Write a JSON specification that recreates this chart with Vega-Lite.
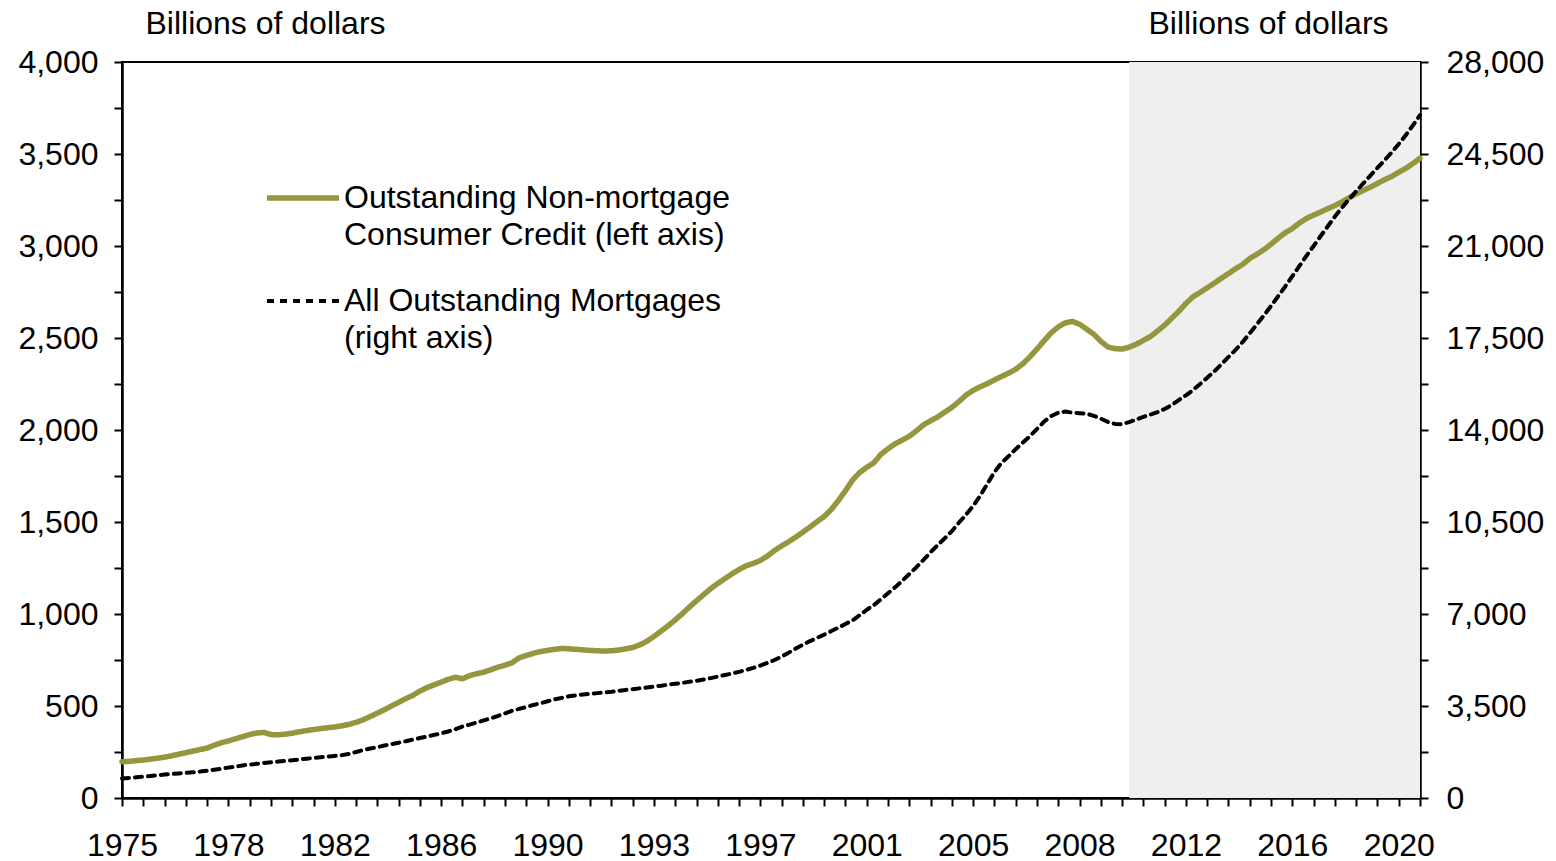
{
  "$schema": "https://vega.github.io/schema/vega-lite/v6.json",
  "width": 1298,
  "height": 736,
  "autosize": {"type": "none"},
  "padding": {"left": 122, "top": 62, "right": 136, "bottom": 63},
  "background": "white",
  "config": {
    "font": "Liberation Sans",
    "view": {"stroke": "black", "strokeWidth": 2},
    "axis": {
      "grid": false,
      "domainColor": "black",
      "domainWidth": 2.5,
      "tickColor": "black",
      "tickWidth": 2,
      "tickSize": 8,
      "labelFont": "Liberation Sans",
      "labelFontSize": 32,
      "labelColor": "black",
      "titleFont": "Liberation Sans",
      "titleFontSize": 32,
      "titleFontWeight": "normal",
      "titleColor": "black",
      "labelOverlap": false,
      "labelFlush": false,
      "tickCount": 200
    }
  },
  "data": {
    "values": [
      {"t":1975.00,"credit":197,"mortgage":745},{"t":1975.25,"credit":199,"mortgage":765},{"t":1975.50,"credit":203,"mortgage":788},{"t":1975.75,"credit":206,"mortgage":812},
      {"t":1976.00,"credit":211,"mortgage":840},{"t":1976.25,"credit":216,"mortgage":865},{"t":1976.50,"credit":222,"mortgage":890},{"t":1976.75,"credit":229,"mortgage":915},
      {"t":1977.00,"credit":238,"mortgage":935},{"t":1977.25,"credit":246,"mortgage":955},{"t":1977.50,"credit":255,"mortgage":977},{"t":1977.75,"credit":263,"mortgage":1005},
      {"t":1978.00,"credit":271,"mortgage":1040},{"t":1978.25,"credit":287,"mortgage":1075},{"t":1978.50,"credit":300,"mortgage":1115},{"t":1978.75,"credit":310,"mortgage":1155},
      {"t":1979.00,"credit":322,"mortgage":1195},{"t":1979.25,"credit":333,"mortgage":1240},{"t":1979.50,"credit":345,"mortgage":1270},{"t":1979.75,"credit":353,"mortgage":1300},
      {"t":1980.00,"credit":356,"mortgage":1330},{"t":1980.25,"credit":345,"mortgage":1360},{"t":1980.50,"credit":343,"mortgage":1385},{"t":1980.75,"credit":347,"mortgage":1410},
      {"t":1981.00,"credit":352,"mortgage":1435},{"t":1981.25,"credit":360,"mortgage":1465},{"t":1981.50,"credit":366,"mortgage":1495},{"t":1981.75,"credit":372,"mortgage":1520},
      {"t":1982.00,"credit":377,"mortgage":1548},{"t":1982.25,"credit":382,"mortgage":1575},{"t":1982.50,"credit":386,"mortgage":1600},{"t":1982.75,"credit":392,"mortgage":1630},
      {"t":1983.00,"credit":400,"mortgage":1680},{"t":1983.25,"credit":411,"mortgage":1750},{"t":1983.50,"credit":425,"mortgage":1826},{"t":1983.75,"credit":443,"mortgage":1880},
      {"t":1984.00,"credit":461,"mortgage":1935},{"t":1984.25,"credit":480,"mortgage":1995},{"t":1984.50,"credit":500,"mortgage":2050},{"t":1984.75,"credit":520,"mortgage":2100},
      {"t":1985.00,"credit":540,"mortgage":2160},{"t":1985.25,"credit":558,"mortgage":2220},{"t":1985.50,"credit":581,"mortgage":2280},{"t":1985.75,"credit":600,"mortgage":2335},
      {"t":1986.00,"credit":615,"mortgage":2400},{"t":1986.25,"credit":630,"mortgage":2460},{"t":1986.50,"credit":645,"mortgage":2530},{"t":1986.75,"credit":656,"mortgage":2620},
      {"t":1987.00,"credit":648,"mortgage":2720},{"t":1987.25,"credit":665,"mortgage":2790},{"t":1987.50,"credit":675,"mortgage":2870},{"t":1987.75,"credit":684,"mortgage":2950},
      {"t":1988.00,"credit":697,"mortgage":3030},{"t":1988.25,"credit":711,"mortgage":3120},{"t":1988.50,"credit":722,"mortgage":3220},{"t":1988.75,"credit":735,"mortgage":3320},
      {"t":1989.00,"credit":762,"mortgage":3390},{"t":1989.25,"credit":775,"mortgage":3460},{"t":1989.50,"credit":786,"mortgage":3540},{"t":1989.75,"credit":796,"mortgage":3605},
      {"t":1990.00,"credit":802,"mortgage":3680},{"t":1990.25,"credit":808,"mortgage":3750},{"t":1990.50,"credit":813,"mortgage":3810},{"t":1990.75,"credit":811,"mortgage":3870},
      {"t":1991.00,"credit":808,"mortgage":3905},{"t":1991.25,"credit":805,"mortgage":3935},{"t":1991.50,"credit":802,"mortgage":3965},{"t":1991.75,"credit":800,"mortgage":3990},
      {"t":1992.00,"credit":799,"mortgage":4015},{"t":1992.25,"credit":800,"mortgage":4040},{"t":1992.50,"credit":804,"mortgage":4075},{"t":1992.75,"credit":810,"mortgage":4110},
      {"t":1993.00,"credit":818,"mortgage":4140},{"t":1993.25,"credit":832,"mortgage":4172},{"t":1993.50,"credit":852,"mortgage":4205},{"t":1993.75,"credit":878,"mortgage":4240},
      {"t":1994.00,"credit":907,"mortgage":4270},{"t":1994.25,"credit":936,"mortgage":4310},{"t":1994.50,"credit":968,"mortgage":4345},{"t":1994.75,"credit":1002,"mortgage":4380},
      {"t":1995.00,"credit":1038,"mortgage":4420},{"t":1995.25,"credit":1072,"mortgage":4460},{"t":1995.50,"credit":1105,"mortgage":4510},{"t":1995.75,"credit":1138,"mortgage":4560},
      {"t":1996.00,"credit":1166,"mortgage":4620},{"t":1996.25,"credit":1192,"mortgage":4680},{"t":1996.50,"credit":1218,"mortgage":4735},{"t":1996.75,"credit":1242,"mortgage":4800},
      {"t":1997.00,"credit":1262,"mortgage":4870},{"t":1997.25,"credit":1275,"mortgage":4950},{"t":1997.50,"credit":1291,"mortgage":5040},{"t":1997.75,"credit":1315,"mortgage":5140},
      {"t":1998.00,"credit":1345,"mortgage":5250},{"t":1998.25,"credit":1370,"mortgage":5380},{"t":1998.50,"credit":1393,"mortgage":5530},{"t":1998.75,"credit":1418,"mortgage":5690},
      {"t":1999.00,"credit":1445,"mortgage":5830},{"t":1999.25,"credit":1473,"mortgage":5970},{"t":1999.50,"credit":1502,"mortgage":6090},{"t":1999.75,"credit":1530,"mortgage":6215},
      {"t":2000.00,"credit":1568,"mortgage":6350},{"t":2000.25,"credit":1617,"mortgage":6480},{"t":2000.50,"credit":1670,"mortgage":6620},{"t":2000.75,"credit":1728,"mortgage":6760},
      {"t":2001.00,"credit":1769,"mortgage":6950},{"t":2001.25,"credit":1797,"mortgage":7160},{"t":2001.50,"credit":1822,"mortgage":7340},{"t":2001.75,"credit":1868,"mortgage":7560},
      {"t":2002.00,"credit":1898,"mortgage":7790},{"t":2002.25,"credit":1925,"mortgage":8020},{"t":2002.50,"credit":1945,"mortgage":8260},{"t":2002.75,"credit":1966,"mortgage":8520},
      {"t":2003.00,"credit":1995,"mortgage":8780},{"t":2003.25,"credit":2028,"mortgage":9060},{"t":2003.50,"credit":2050,"mortgage":9350},{"t":2003.75,"credit":2071,"mortgage":9620},
      {"t":2004.00,"credit":2097,"mortgage":9880},{"t":2004.25,"credit":2123,"mortgage":10150},{"t":2004.50,"credit":2155,"mortgage":10480},{"t":2004.75,"credit":2190,"mortgage":10780},
      {"t":2005.00,"credit":2215,"mortgage":11110},{"t":2005.25,"credit":2235,"mortgage":11500},{"t":2005.50,"credit":2252,"mortgage":11950},{"t":2005.75,"credit":2272,"mortgage":12400},
      {"t":2006.00,"credit":2291,"mortgage":12750},{"t":2006.25,"credit":2309,"mortgage":13000},{"t":2006.50,"credit":2330,"mortgage":13270},{"t":2006.75,"credit":2360,"mortgage":13520},
      {"t":2007.00,"credit":2397,"mortgage":13760},{"t":2007.25,"credit":2440,"mortgage":14040},{"t":2007.50,"credit":2485,"mortgage":14320},{"t":2007.75,"credit":2528,"mortgage":14530},
      {"t":2008.00,"credit":2560,"mortgage":14660},{"t":2008.25,"credit":2582,"mortgage":14700},{"t":2008.50,"credit":2590,"mortgage":14660},{"t":2008.75,"credit":2575,"mortgage":14640},
      {"t":2009.00,"credit":2548,"mortgage":14620},{"t":2009.25,"credit":2521,"mortgage":14540},{"t":2009.50,"credit":2482,"mortgage":14430},{"t":2009.75,"credit":2451,"mortgage":14310},
      {"t":2010.00,"credit":2442,"mortgage":14230},{"t":2010.25,"credit":2440,"mortgage":14220},{"t":2010.50,"credit":2450,"mortgage":14300},{"t":2010.75,"credit":2466,"mortgage":14400},
      {"t":2011.00,"credit":2487,"mortgage":14500},{"t":2011.25,"credit":2508,"mortgage":14590},{"t":2011.50,"credit":2538,"mortgage":14680},{"t":2011.75,"credit":2570,"mortgage":14800},
      {"t":2012.00,"credit":2608,"mortgage":14950},{"t":2012.25,"credit":2645,"mortgage":15140},{"t":2012.50,"credit":2688,"mortgage":15320},{"t":2012.75,"credit":2724,"mortgage":15520},
      {"t":2013.00,"credit":2748,"mortgage":15750},{"t":2013.25,"credit":2773,"mortgage":15990},{"t":2013.50,"credit":2798,"mortgage":16230},{"t":2013.75,"credit":2825,"mortgage":16500},
      {"t":2014.00,"credit":2850,"mortgage":16780},{"t":2014.25,"credit":2877,"mortgage":17050},{"t":2014.50,"credit":2900,"mortgage":17350},{"t":2014.75,"credit":2932,"mortgage":17680},
      {"t":2015.00,"credit":2955,"mortgage":18020},{"t":2015.25,"credit":2980,"mortgage":18360},{"t":2015.50,"credit":3010,"mortgage":18720},{"t":2015.75,"credit":3042,"mortgage":19090},
      {"t":2016.00,"credit":3072,"mortgage":19460},{"t":2016.25,"credit":3095,"mortgage":19850},{"t":2016.50,"credit":3125,"mortgage":20240},{"t":2016.75,"credit":3150,"mortgage":20630},
      {"t":2017.00,"credit":3168,"mortgage":21000},{"t":2017.25,"credit":3185,"mortgage":21380},{"t":2017.50,"credit":3203,"mortgage":21750},{"t":2017.75,"credit":3220,"mortgage":22120},
      {"t":2018.00,"credit":3240,"mortgage":22460},{"t":2018.25,"credit":3262,"mortgage":22780},{"t":2018.50,"credit":3283,"mortgage":23080},{"t":2018.75,"credit":3302,"mortgage":23380},
      {"t":2019.00,"credit":3320,"mortgage":23680},{"t":2019.25,"credit":3340,"mortgage":23970},{"t":2019.50,"credit":3360,"mortgage":24260},{"t":2019.75,"credit":3378,"mortgage":24560},
      {"t":2020.00,"credit":3400,"mortgage":24880},{"t":2020.25,"credit":3422,"mortgage":25220},{"t":2020.50,"credit":3448,"mortgage":25590},{"t":2020.75,"credit":3477,"mortgage":25980}
    ]
  },
  "layer": [
    {
      "data": {"values": [{"start": 2010.5, "end": 2020.75}]},
      "mark": {"type": "rect", "color": "#efefef"},
      "encoding": {
        "x": {"field": "start", "type": "quantitative", "scale": {"domain": [1975, 2020.75], "nice": false, "zero": false}},
        "x2": {"field": "end"}
      }
    },
    {
      "mark": {"type": "line", "strokeCap": "round", "strokeJoin": "round"},
      "encoding": {
        "x": {
          "field": "t", "type": "quantitative",
          "scale": {"domain": [1975, 2020.75], "nice": false, "zero": false},
          "axis": {
            "title": null,
            "tickCount": 200,
            "values": [1975,1975.75,1976.5,1977.25,1978,1978.75,1979.5,1980.25,1981,1981.75,1982.5,1983.25,1984,1984.75,1985.5,1986.25,1987,1987.75,1988.5,1989.25,1990,1990.75,1991.5,1992.25,1993,1993.75,1994.5,1995.25,1996,1996.75,1997.5,1998.25,1999,1999.75,2000.5,2001.25,2002,2002.75,2003.5,2004.25,2005,2005.75,2006.5,2007.25,2008,2008.75,2009.5,2010.25,2011,2011.75,2012.5,2013.25,2014,2014.75,2015.5,2016.25,2017,2017.75,2018.5,2019.25,2020,2020.75],
            "labelExpr": "(datum.value - 1975) % 3.75 == 0 ? '' + floor(datum.value) : ''",
            "labelPadding": 24
          }
        },
        "y": {
          "field": "credit", "type": "quantitative",
          "scale": {"domain": [0, 4000], "nice": false},
          "axis": {
            "orient": "left",
            "title": "Billions of dollars",
            "titleAngle": 0,
            "titleX": 143,
            "titleY": -29,
            "titleAlign": "center",
            "titleBaseline": "alphabetic",
            "values": [0,250,500,750,1000,1250,1500,1750,2000,2250,2500,2750,3000,3250,3500,3750,4000],
            "labelExpr": "datum.value % 500 == 0 ? format(datum.value, ',') : ''",
            "labelPadding": 16
          }
        },
        "color": {
          "datum": "credit", "type": "nominal",
          "scale": {"domain": ["credit", "mortgage"], "range": ["#96963F", "#000000"]},
          "legend": {
            "title": null,
            "orient": "none",
            "legendX": 142,
            "legendY": 97,
            "padding": 0,
            "symbolType": "stroke",
            "symbolSize": 5184,
            "labelOffset": 2,
            "labelLimit": 0,
            "labelFontSize": 32,
            "labelFont": "Liberation Sans",
            "labelColor": "black",
            "labelBaseline": "alphabetic",
            "rowPadding": 12,
            "labelExpr": "datum.value == 'credit' ? ['Outstanding Non-mortgage', 'Consumer Credit (left axis)'] : ['All Outstanding Mortgages', '(right axis)']",
            "encoding": {"labels": {"dy": {"value": 10}, "lineHeight": {"value": 37}}}
          }
        },
        "strokeDash": {
          "datum": "credit", "type": "nominal",
          "scale": {"domain": ["credit", "mortgage"], "range": [[1, 0], [7, 6]]}
        },
        "strokeWidth": {
          "datum": "credit", "type": "nominal",
          "scale": {"type": "point", "padding": 0, "domain": ["credit", "mortgage"], "range": [5.5, 4]}
        }
      }
    },
    {
      "mark": {"type": "line", "strokeCap": "round", "strokeJoin": "round"},
      "encoding": {
        "x": {"field": "t", "type": "quantitative"},
        "y": {
          "field": "mortgage", "type": "quantitative",
          "scale": {"domain": [0, 28000], "nice": false},
          "axis": {
            "orient": "right",
            "title": "Billions of dollars",
            "titleAngle": 0,
            "titleX": -152,
            "titleY": -29,
            "titleAlign": "center",
            "titleBaseline": "alphabetic",
            "values": [0,1750,3500,5250,7000,8750,10500,12250,14000,15750,17500,19250,21000,22750,24500,26250,28000],
            "labelExpr": "datum.value % 3500 == 0 ? format(datum.value, ',') : ''",
            "labelPadding": 18
          }
        },
        "color": {"datum": "mortgage", "type": "nominal"},
        "strokeDash": {"datum": "mortgage", "type": "nominal"},
        "strokeWidth": {"datum": "mortgage", "type": "nominal"}
      }
    }
  ],
  "resolve": {"scale": {"y": "independent"}}
}
